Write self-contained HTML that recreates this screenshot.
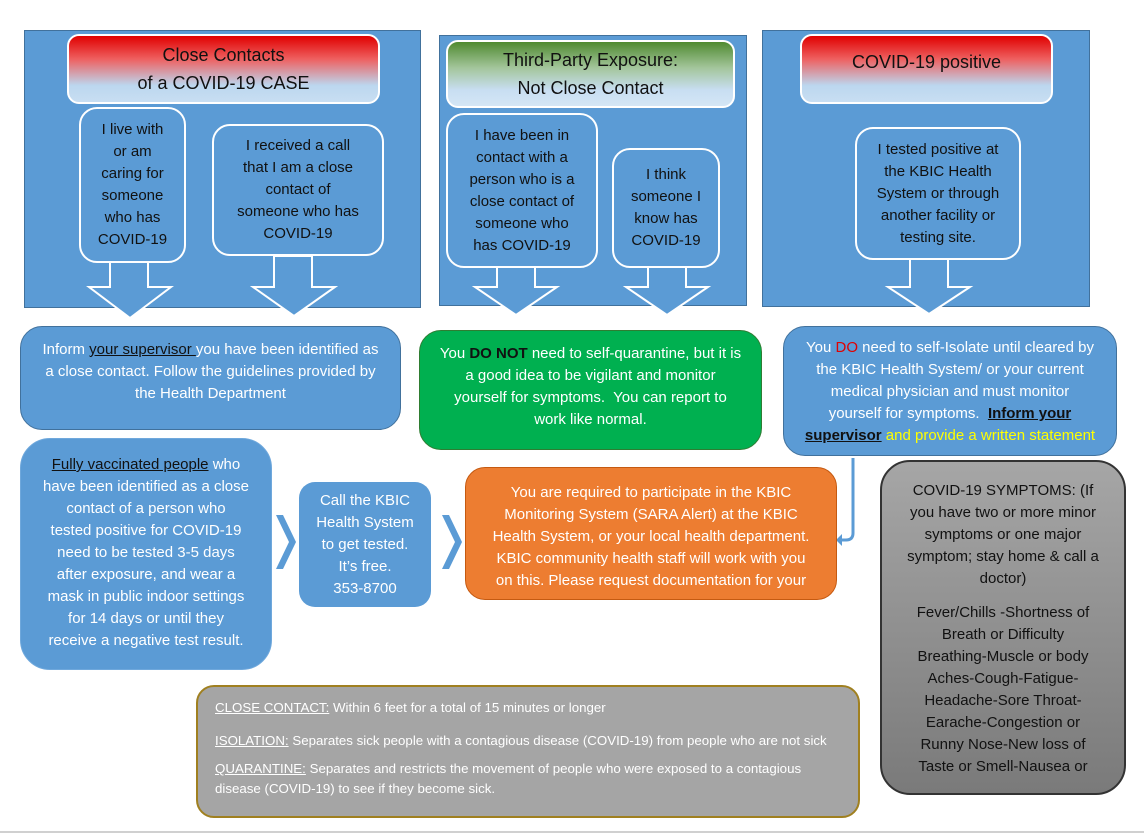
<!DOCTYPE html>
<html><head><meta charset="utf-8"><style>
body{margin:0;width:1144px;height:835px;background:#fff;position:relative;overflow:hidden;font-family:"Liberation Sans",sans-serif;}
.a{position:absolute;box-sizing:border-box;}
.panel{background:#5b9bd5;border:1px solid #41719c;}
.b{display:flex;flex-direction:column;justify-content:center;align-items:center;text-align:center;font-size:15px;line-height:22px;white-space:nowrap;}
.w{background:#5b9bd5;border:2px solid #fff;border-radius:18px;color:#111;}
.hdr{border:2px solid #fff;border-radius:12px;font-size:18px;line-height:28px;color:#111;}
.fill{color:#fff;border-radius:22px;}
u{text-decoration:underline;}
</style></head><body>
<div class="a panel" style="left:24px;top:30px;width:397px;height:278px"></div>
<div class="a panel" style="left:439px;top:35px;width:308px;height:271px"></div>
<div class="a panel" style="left:762px;top:30px;width:328px;height:277px"></div>

<div class="a b hdr" style="left:67px;top:34px;width:313px;height:70px;background:linear-gradient(#e00000 0%,#ee6060 35%,#bcd7ef 75%,#c8def2 100%)">Close Contacts<br>of a COVID-19 CASE</div>
<div class="a b hdr" style="left:446px;top:40px;width:289px;height:68px;background:linear-gradient(#4f8a30 0%,#a3c59a 40%,#c8def2 75%,#d4e6f5 100%)">Third-Party Exposure:<br>Not Close Contact</div>
<div class="a b hdr" style="left:800px;top:34px;width:253px;height:70px;justify-content:flex-start;padding-top:12px;background:linear-gradient(#e00000 0%,#ee6060 35%,#bcd7ef 75%,#c8def2 100%)">COVID-19 positive</div>

<svg class="a" style="left:0;top:0" width="1144" height="835">
<g fill="#5b9bd5" stroke="#fff" stroke-width="2">
<polygon points="110,262 148,262 148,287 171,287 130,318 89,287 110,287"/>
<polygon points="274,256 312,256 312,287 335,287 294,316 253,287 274,287"/>
<polygon points="497,267 535,267 535,287 557,287 516,315 475,287 497,287"/>
<polygon points="648,267 686,267 686,287 708,287 667,315 626,287 648,287"/>
<polygon points="910,259 948,259 948,287 970,287 929,314 888,287 910,287"/>
</g>
<path d="M853,458 V533 Q853,540 846,540 H842" fill="none" stroke="#5b9bd5" stroke-width="3"/>
<polygon points="842,534 842,546 836,540" fill="#5b9bd5"/>
<polygon points="276,515 283,515 296,542 283,569 276,569 289,542" fill="#5b9bd5"/>
<polygon points="442,515 449,515 462,542 449,569 442,569 455,542" fill="#5b9bd5"/>
<line x1="0" y1="832" x2="1144" y2="832" stroke="#d0d0d0" stroke-width="2"/>
</svg>

<div class="a b w" style="left:79px;top:107px;width:107px;height:156px">I live with<br>or am<br>caring for<br>someone<br>who has<br>COVID-19</div>
<div class="a b w" style="left:212px;top:124px;width:172px;height:132px">I received a call<br>that I am a close<br>contact of<br>someone who has<br>COVID-19</div>
<div class="a b w" style="left:446px;top:113px;width:152px;height:155px">I have been in<br>contact with a<br>person who is a<br>close contact of<br>someone who<br>has COVID-19</div>
<div class="a b w" style="left:612px;top:148px;width:108px;height:120px">I think<br>someone I<br>know has<br>COVID-19</div>
<div class="a b w" style="left:855px;top:127px;width:166px;height:133px">I tested positive at<br>the KBIC Health<br>System or through<br>another facility or<br>testing site.</div>

<div class="a b fill" style="left:20px;top:326px;width:381px;height:104px;background:#5b9bd5;border:1px solid #41719c;justify-content:flex-start;padding-top:12px"><div>Inform <u style="color:#111">your supervisor </u>you have been identified as<br>a close contact. Follow the guidelines provided by<br>the Health Department</div></div>
<div class="a b fill" style="left:419px;top:330px;width:343px;height:120px;background:#00b050;border:1px solid #2e7d32;justify-content:flex-start;padding-top:12px"><div>You <b style="color:#111">DO NOT</b> need to self-quarantine, but it is<br>a good idea to be vigilant and monitor<br>yourself for symptoms.&nbsp; You can report to<br>work like normal.</div></div>
<div class="a b fill" style="left:783px;top:326px;width:334px;height:130px;background:#5b9bd5;border:1px solid #41719c;justify-content:flex-start;padding-top:10px"><div>You <span style="color:#e00000">DO</span> need to self-Isolate until cleared by<br>the KBIC Health System/ or your current<br>medical physician and must monitor<br>yourself for symptoms.&nbsp; <b><u style="color:#111">Inform your</u></b><br><b><u style="color:#111">supervisor</u></b><span style="color:#ffff00"> and provide a written statement</span></div></div>

<div class="a b fill" style="left:20px;top:438px;width:252px;height:232px;background:#5b9bd5;border:1px solid #6fa8dc;border-radius:30px;justify-content:flex-start;padding-top:15px"><div><u style="color:#111">Fully vaccinated people</u> who<br>have been identified as a close<br>contact of a person who<br>tested positive for COVID-19<br>need to be tested 3-5 days<br>after exposure, and wear a<br>mask in public indoor settings<br>for 14 days or until they<br>receive a negative test result.</div></div>
<div class="a b fill" style="left:299px;top:482px;width:132px;height:125px;background:#5b9bd5;border-radius:16px">Call the KBIC<br>Health System<br>to get tested.<br>It’s free.<br>353-8700</div>
<div class="a b fill" style="left:465px;top:467px;width:372px;height:133px;background:#ed7d31;border:1px solid #c55a11;border-radius:20px;justify-content:flex-start;padding-top:14px"><div>You are required to participate in the KBIC<br>Monitoring System (SARA Alert) at the KBIC<br>Health System, or your local health department.<br>KBIC community health staff will work with you<br>on this. Please request documentation for your</div></div>

<div class="a b" style="left:880px;top:460px;width:246px;height:335px;background:linear-gradient(#a6a6a6,#7a7a7a);border:2px solid #333;border-radius:30px;color:#111;justify-content:flex-start;padding-top:18px"><div>COVID-19 SYMPTOMS: (If<br>you have two or more minor<br>symptoms or one major<br>symptom; stay home &amp; call a<br>doctor)</div><div style="margin-top:12px">Fever/Chills -Shortness of<br>Breath or Difficulty<br>Breathing-Muscle or body<br>Aches-Cough-Fatigue-<br>Headache-Sore Throat-<br>Earache-Congestion or<br>Runny Nose-New loss of<br>Taste or Smell-Nausea or</div></div>

<div class="a" style="left:196px;top:685px;width:664px;height:133px;background:#a5a5a5;border:2px solid #a08020;border-radius:18px;color:#fff;font-size:13.3px;padding:12px 0 0 17px;white-space:nowrap">
<div style="line-height:17px"><u>CLOSE CONTACT:</u> Within 6 feet for a total of 15 minutes or longer</div>
<div style="line-height:17px;margin-top:16px"><u>ISOLATION:</u> Separates sick people with a contagious disease (COVID-19) from people who are not sick</div>
<div style="line-height:20px;margin-top:10px"><u>QUARANTINE:</u> Separates and restricts the movement of people who were exposed to a contagious<br>disease (COVID-19) to see if they become sick.</div>
</div>
</body></html>
